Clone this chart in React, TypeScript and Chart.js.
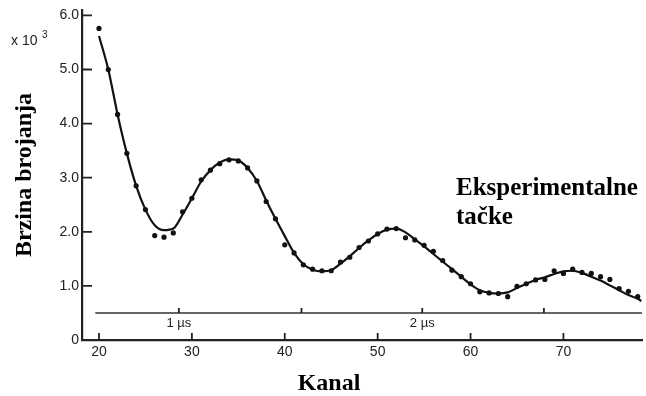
import React, { useEffect, useRef } from "react";
import { Chart, registerables } from "chart.js";

Chart.register(...registerables);

// Channels (Kanal) of the measured points
const channels = [
  20, 21, 22, 23, 24, 25, 26, 27, 28, 29, 30, 31, 32, 33, 34, 35, 36, 37, 38, 39,
  40, 41, 42, 43, 44, 45, 46, 47, 48, 49, 50, 51, 52, 53, 54, 55, 56, 57, 58, 59,
  60, 61, 62, 63, 64, 65, 66, 67, 68, 69, 70, 71, 72, 73, 74, 75, 76, 77, 78,
];
// Experimental points (x 10^3 counts)
const measured = [
  5.76, 5.0, 4.17, 3.45, 2.85, 2.41, 1.93, 1.9, 1.98, 2.37, 2.62, 2.96, 3.14, 3.26, 3.33, 3.31, 3.18, 2.94, 2.56, 2.24,
  1.76, 1.61, 1.39, 1.31, 1.28, 1.28, 1.44, 1.53, 1.71, 1.83, 1.96, 2.05, 2.06, 1.89, 1.85, 1.75, 1.64, 1.47, 1.29, 1.17,
  1.04, 0.89, 0.87, 0.86, 0.8, 0.99, 1.04, 1.11, 1.12, 1.28, 1.23, 1.31, 1.25, 1.23, 1.17, 1.12, 0.95, 0.9, 0.8,
];
// Fitted curve
const fitChannels = [
  20, 21, 22, 23, 24, 25, 26, 27, 28, 29, 30, 31, 32, 33, 34, 35, 36, 37, 38, 39,
  40, 41, 42, 43, 44, 45, 46, 47, 48, 49, 50, 51, 52, 53, 54, 55, 56, 57, 58, 59,
  60, 61, 62, 63, 64, 65, 66, 67, 68, 69, 70, 71, 72, 73, 74, 75, 76, 77, 78, 78.4,
];
const fitValues = [
  5.62, 5.0, 4.17, 3.45, 2.85, 2.41, 2.12, 2.03, 2.06, 2.32, 2.62, 2.93, 3.14, 3.28, 3.34, 3.32, 3.18, 2.94, 2.58, 2.24,
  1.92, 1.61, 1.4, 1.3, 1.27, 1.29, 1.41, 1.55, 1.7, 1.84, 1.96, 2.04, 2.06, 1.99, 1.86, 1.73, 1.59, 1.45, 1.31, 1.17,
  1.03, 0.92, 0.87, 0.86, 0.88, 0.96, 1.04, 1.11, 1.16, 1.22, 1.27, 1.28, 1.24, 1.17, 1.1, 1.01, 0.92, 0.83, 0.76, 0.72,
];
// Axis ticks
const xTickValues = [20, 30, 40, 50, 60, 70];
const yTickValues = [0, 1, 2, 3, 4, 5, 6];
// Time bar (µs scale)
const timeBarLevel = 0.5;
const timeBarRange = [19.6, 78.46];
const timeTicks = [28.6, 41.8, 54.8, 67.9];
const timeTickLabels = ["1 µs", "", "2 µs", ""];

const X_MIN = 18.17;
const X_MAX = 78.46;
const Y_MIN = 0;
const Y_MAX = 6.1;

export default function App() {
  const ref = useRef<HTMLCanvasElement | null>(null);

  useEffect(() => {
    const canvas = ref.current;
    if (!canvas) return;

    const overlay = {
      id: "overlay",
      afterDatasetsDraw(chart: any) {
        const { ctx, scales } = chart;
        const x = scales.x;
        const y = scales.y;
        ctx.save();
        ctx.strokeStyle = "#222";
        ctx.lineWidth = 1.8;
        ctx.beginPath();
        yTickValues.forEach((v) => {
          const py = y.getPixelForValue(v);
          ctx.moveTo(x.left, py);
          ctx.lineTo(x.left + 10, py);
        });
        xTickValues.forEach((v) => {
          const px = x.getPixelForValue(v);
          ctx.moveTo(px, y.bottom);
          ctx.lineTo(px, y.bottom - 7);
        });
        const ty = y.getPixelForValue(timeBarLevel);
        timeTicks.forEach((t) => {
          const px = x.getPixelForValue(t);
          ctx.moveTo(px, ty);
          ctx.lineTo(px, ty - 5);
        });
        ctx.stroke();

        ctx.fillStyle = "#222";
        ctx.font = "13px 'Liberation Sans', Arial, sans-serif";
        ctx.textAlign = "center";
        ctx.textBaseline = "middle";
        timeTicks.forEach((t, i) => {
          if (!timeTickLabels[i]) return;
          ctx.fillText(timeTickLabels[i], x.getPixelForValue(t), ty + 10);
        });
        ctx.restore();
      },
      afterDraw(chart: any) {
        const { ctx, chartArea } = chart;
        ctx.save();
        ctx.fillStyle = "#000";
        // y title
        ctx.font = "bold 24px 'Liberation Serif', 'Times New Roman', serif";
        ctx.textAlign = "center";
        ctx.textBaseline = "alphabetic";
        ctx.save();
        ctx.translate(31, (chartArea.top + chartArea.bottom) / 2);
        ctx.rotate(-Math.PI / 2);
        ctx.fillText("Brzina brojanja", 0, 0);
        ctx.restore();
        // x title
        ctx.fillText("Kanal", 329, 390);
        // annotation
        ctx.textAlign = "left";
        ctx.font = "bold 25px 'Liberation Serif', 'Times New Roman', serif";
        ctx.fillText("Eksperimentalne", 456, 195);
        ctx.fillText("tačke", 456, 224);
        // multiplier
        ctx.fillStyle = "#222";
        ctx.font = "14px 'Liberation Sans', Arial, sans-serif";
        ctx.textAlign = "left";
        ctx.fillText("x 10", 11, 45);
        ctx.font = "10px 'Liberation Sans', Arial, sans-serif";
        ctx.fillText("3", 42, 38);
        ctx.restore();
      },
    };

    const chart = new Chart(canvas, {
      type: "scatter",
      data: {
        datasets: [
          {
            label: "Eksperimentalne tačke",
            data: channels.map((c, i) => ({ x: c, y: measured[i] })),
            pointRadius: 2.6,
            pointBackgroundColor: "#111",
            pointBorderWidth: 0,
            showLine: false,
            order: 0,
          },
          {
            label: "fit",
            type: "line",
            data: fitChannels.map((c, i) => ({ x: c, y: fitValues[i] })),
            borderColor: "#111",
            borderWidth: 2.2,
            pointRadius: 0,
            cubicInterpolationMode: "monotone",
            fill: false,
            order: 1,
          },
          {
            label: "time bar",
            type: "line",
            data: timeBarRange.map((c) => ({ x: c, y: timeBarLevel })),
            borderColor: "#333",
            borderWidth: 1.6,
            pointRadius: 0,
            fill: false,
            order: 2,
          },
        ],
      },
      options: {
        responsive: false,
        animation: false,
        events: [],
        layout: { padding: { left: 0, right: 0, top: 10, bottom: 0 } },
        plugins: { legend: { display: false }, tooltip: { enabled: false } },
        scales: {
          x: {
            type: "linear",
            min: X_MIN,
            max: X_MAX,
            afterBuildTicks: (s: any) => {
              s.ticks = xTickValues.map((v) => ({ value: v }));
            },
            afterFit: (s: any) => {
              s.height = 56;
              s.paddingLeft = 0;
              s.paddingRight = 0;
            },
            grid: { display: false, drawTicks: false },
            border: { display: true, color: "#222", width: 2.2 },
            ticks: {
              padding: 4,
              color: "#222",
              font: { family: "'Liberation Sans', Arial, sans-serif", size: 14 },
              maxRotation: 0,
              callback: (v: any) => String(v),
            },
          },
          y: {
            type: "linear",
            min: Y_MIN,
            max: Y_MAX,
            afterBuildTicks: (s: any) => {
              s.ticks = yTickValues.map((v) => ({ value: v }));
            },
            afterFit: (s: any) => {
              s.width = 82;
              s.paddingTop = 0;
              s.paddingBottom = 0;
            },
            grid: { display: false, drawTicks: false },
            border: { display: true, color: "#222", width: 2.2 },
            ticks: {
              padding: 3,
              color: "#222",
              font: { family: "'Liberation Sans', Arial, sans-serif", size: 14 },
              callback: (v: any) => (Number(v) === 0 ? "0" : Number(v).toFixed(1)),
            },
          },
        },
      },
      plugins: [overlay],
    });

    return () => chart.destroy();
  }, []);

  return (
    <div style={{ position: "fixed", left: 0, top: 0, width: 646, height: 396, background: "#fff" }}>
      <canvas ref={ref} width={646} height={396} style={{ width: 646, height: 396, display: "block" }} />
    </div>
  );
}
